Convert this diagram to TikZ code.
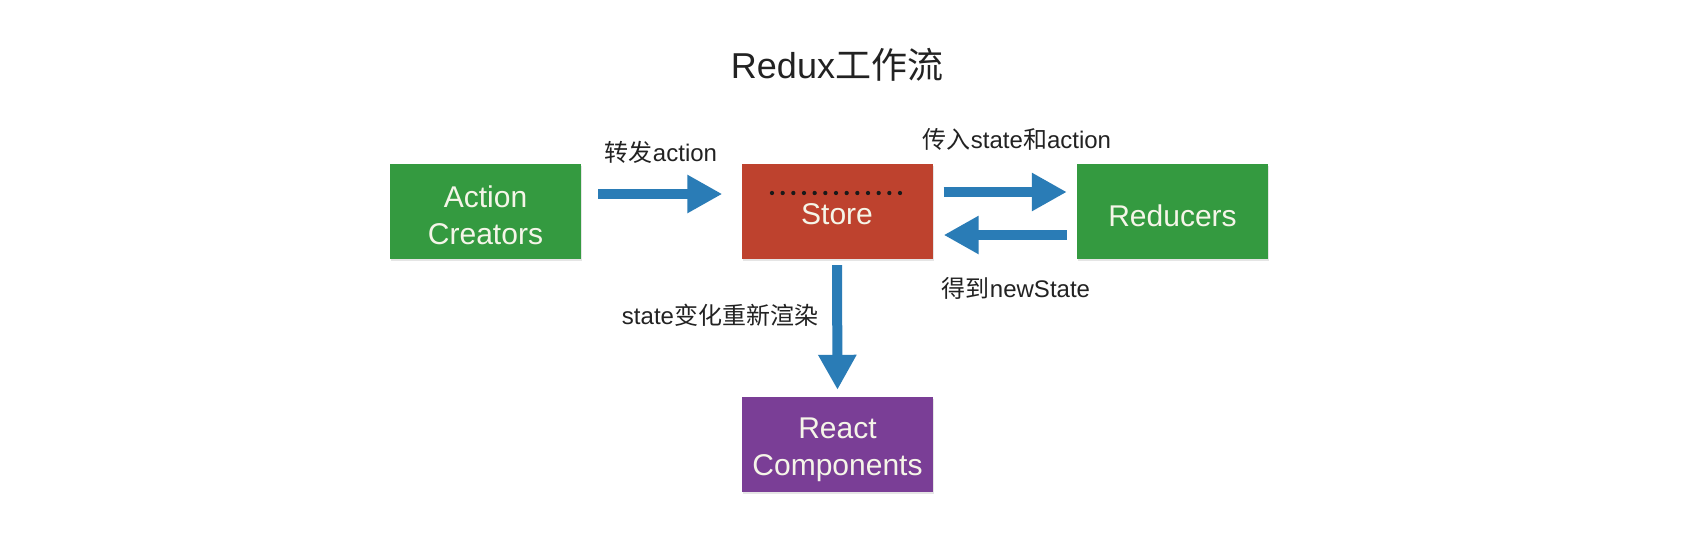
\documentclass[tikz,border=0pt]{standalone}
\usepackage{fontspec}
\setmainfont{Liberation Sans}
\newfontfamily\cjk{Noto Sans CJK SC}
\usetikzlibrary{arrows.meta,shadows}
\definecolor{boxgreen}{RGB}{52,154,64}
\definecolor{boxred}{RGB}{190,66,46}
\definecolor{boxpurple}{RGB}{122,62,150}
\definecolor{arrowblue}{RGB}{42,124,182}
\definecolor{boxtext}{RGB}{245,245,232}
\definecolor{labeltext}{RGB}{34,34,34}
\begin{document}
\begin{tikzpicture}[x=1pt,y=-1pt,
  box/.style={minimum width=191pt, minimum height=95pt, inner sep=0pt,
    drop shadow={shadow xshift=1pt,shadow yshift=-2pt,opacity=0.2}},
  boxlabel/.style={inner sep=0pt, text=boxtext, align=center, font=\fontsize{30}{37}\selectfont},
  flow/.style={draw=arrowblue, line width=10pt, -{Triangle[length=35pt,width=36pt]}},
  lbl/.style={text=labeltext, font=\fontsize{24}{28}\selectfont, inner sep=0pt},
  dotline/.style={draw=black!90, line width=4.3pt, line cap=round, dash pattern=on 0pt off 10.667pt}]
\useasboundingbox[fill=white] (0,0) rectangle (1698,547);
\node[box, fill=boxgreen] (act) at (485.5,211.5) {};
\node[box, fill=boxred] (store) at (837,211.5) {};
\node[box, fill=boxgreen] (red) at (1172.5,211.5) {};
\node[box, fill=boxpurple] (react) at (837.5,444.5) {};
\node[boxlabel] (actT) at ([yshift=-3.5pt]act.center) {Action\\Creators};
\node[boxlabel] (storeT) at ([yshift=-3pt]store.center) {Store};
\node[boxlabel] (redT) at ([yshift=-4pt]red.center) {Reducers};
\node[boxlabel] (reactT) at ([yshift=-5pt]react.center) {React\\Components};
\coordinate (dotL) at (772,193);
\coordinate (dotR) at (901,193);
\draw[dotline] (dotL) -- (dotR);
\draw[flow, shorten <=17pt, shorten >=19pt] ([yshift=17.5pt]act.east) -- ([yshift=17.5pt]store.west);
\draw[flow, shorten <=11pt, shorten >=10pt] ([yshift=19.5pt]store.east) -- ([yshift=19.5pt]red.west);
\draw[flow, shorten <=10pt, shorten >=11pt] ([yshift=-23.5pt]red.west) -- ([yshift=-23.5pt]store.east);
\draw[flow, shorten <=6pt, shorten >=7pt] (store.south) -- (react.north);
\node[text=labeltext, font=\fontsize{36}{40}\selectfont] (title) at (837,65) {Redux{\cjk 工作流}};
\node[lbl] (l1) at (661,152) {{\cjk 转发}action};
\node[lbl] (l2) at (1017,139) {{\cjk 传入}state{\cjk 和}action};
\node[lbl] (l3) at (1016,288) {{\cjk 得到}newState};
\node[lbl] (l4) at (720,315) {state{\cjk 变化重新渲染}};
\end{tikzpicture}
\end{document}
